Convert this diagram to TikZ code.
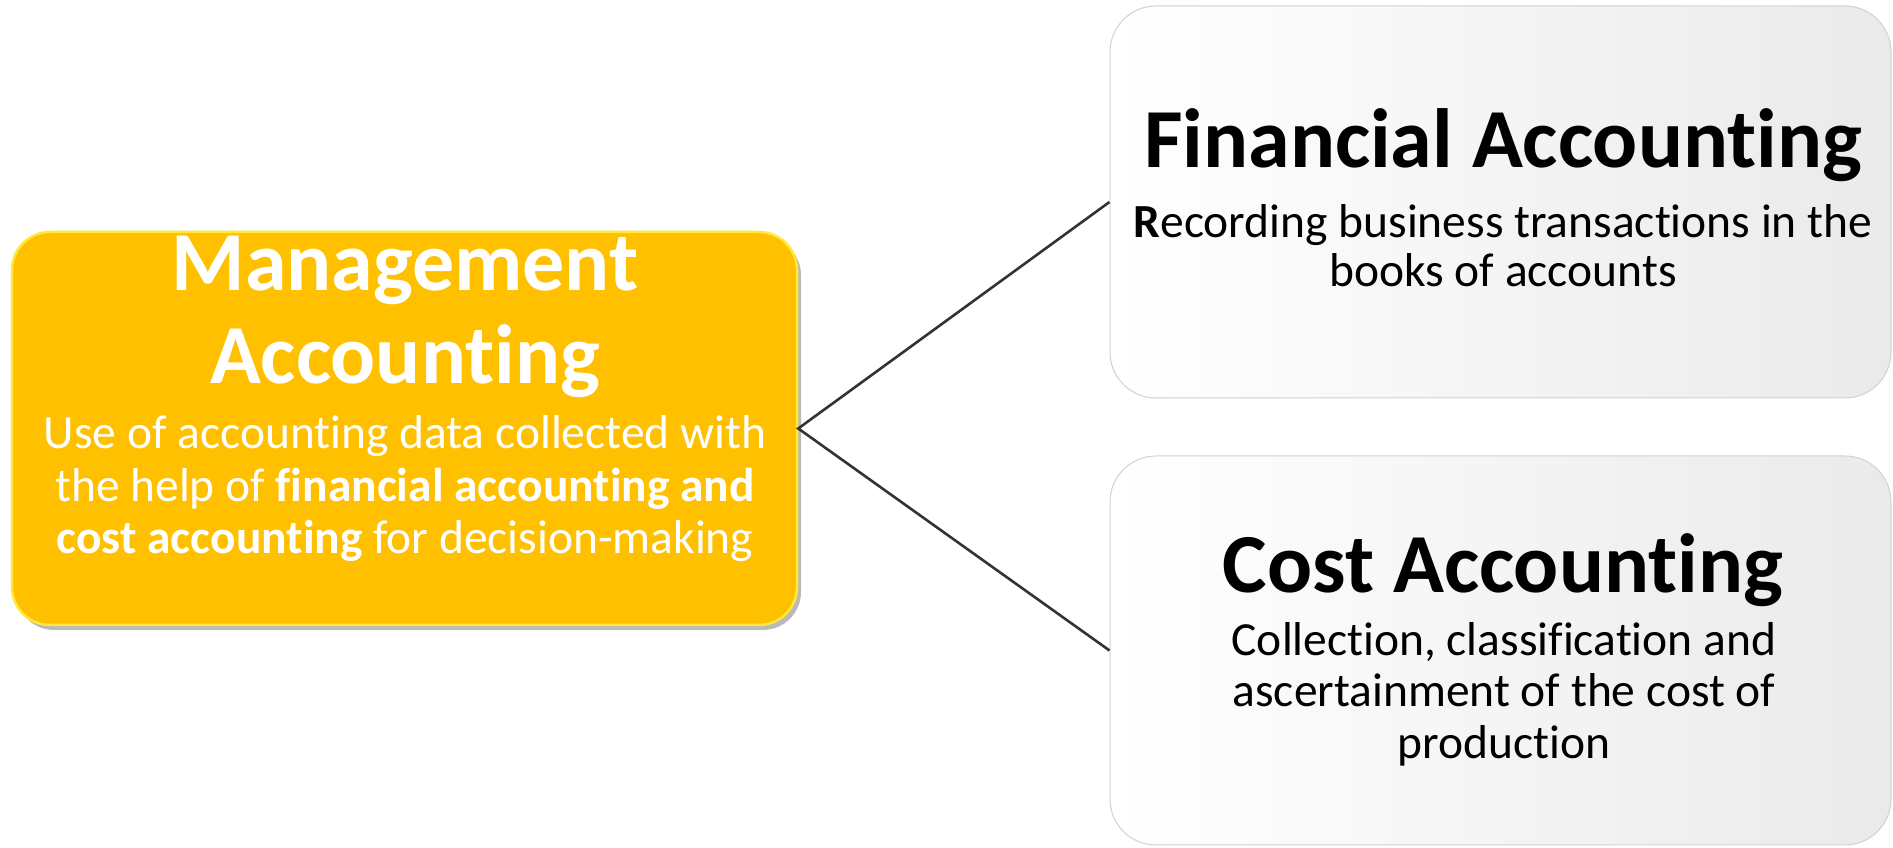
\documentclass[tikz,border=0pt]{standalone}
\usepackage{fontspec}
\setmainfont{Carlito}[Ligatures={NoCommon}]
\usetikzlibrary{shadows}
\definecolor{mgold}{HTML}{FFC000}
\definecolor{mrim}{HTML}{FFE83A}
\definecolor{lgray}{HTML}{EAEAEA}
\definecolor{linec}{HTML}{333333}
\begin{document}
\begin{tikzpicture}[x=1pt,y=1pt,
  mbox/.style={rounded corners=38pt, minimum width=785pt, minimum height=393pt, inner sep=0pt,
    fill=mgold, draw=mrim, line width=2.5pt,
    drop shadow={shadow xshift=4pt, shadow yshift=-5pt, fill=black!45, opacity=0.6}},
  gbox/.style={rounded corners=46pt, minimum width=781pt, inner sep=0pt,
    left color=white, right color=lgray, draw=black!18, line width=1pt},
  ttl/.style={anchor=base, inner sep=0pt, font=\fontsize{84}{92}\selectfont\bfseries},
  body/.style={anchor=base, inner sep=0pt, font=\fontsize{47.5}{52}\selectfont},
  conn/.style={draw=linec, line width=2.6pt}]
\useasboundingbox (0,0) rectangle (1893,848);
% boxes
\node[mbox] (mgmt) at (404.5,419.5) {};
\node[gbox, minimum height=392pt] (fin) at (1500.5,646) {};
\node[gbox, minimum height=389pt] (cost) at (1500.5,197.5) {};
% connectors
\draw[conn, line join=miter] (fin.west) -- (mgmt.east) -- (cost.west);
% management text
\node[ttl, text=white] (m1) at (405,557) {Management};
\node[ttl, text=white] (m2) at (405,464) {Accounting};
\node[body, text=white] (m3) at (405,399) {Use of accounting data collected with};
\node[body, text=white] (m4) at (405,346) {the help of \textbf{financial accounting and}};
\node[body, text=white] (m5) at (405,294) {\textbf{cost accounting} for decision-making};
% financial text
\node[ttl] (f1) at (1503,680) {Financial Accounting};
\node[body] (f2) at (1503,610) {\textbf{R}ecording business transactions in the};
\node[body] (f3) at (1503,561) {books of accounts};
% cost text
\node[ttl] (c1) at (1503,255) {Cost Accounting};
\node[body] (c2) at (1504,192) {Collection, classification and};
\node[body] (c3) at (1504,141) {ascertainment of the cost of};
\node[body] (c4) at (1504,89) {production};
\end{tikzpicture}
\end{document}
